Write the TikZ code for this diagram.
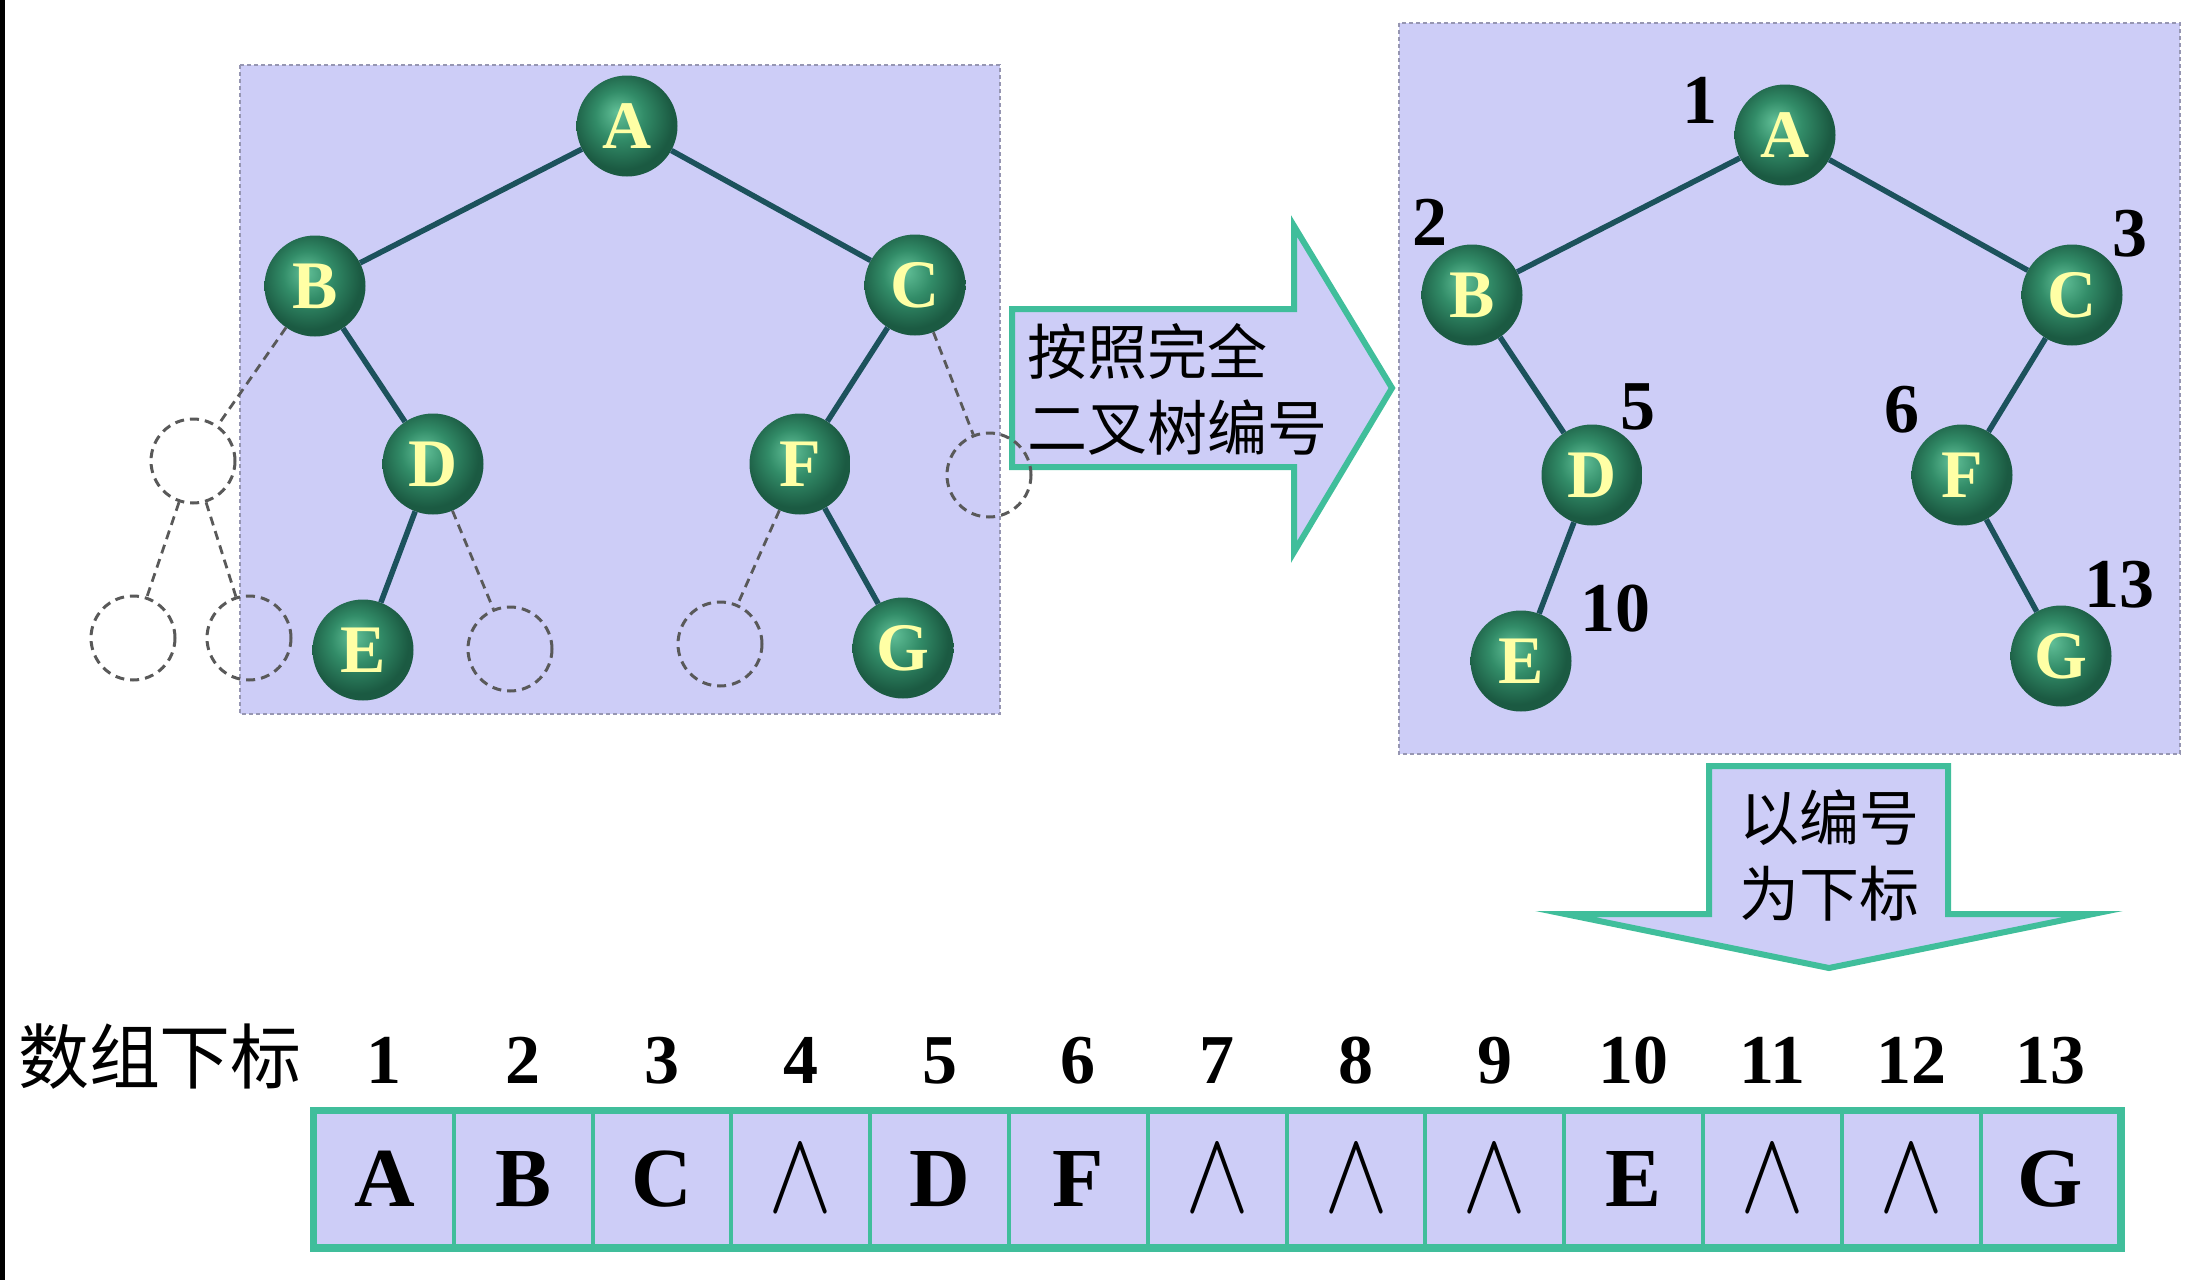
\RequirePackage{fix-cm}
\documentclass[tikz,border=0pt]{standalone}
\usepackage{fontspec}
\setmainfont{Liberation Serif}
\newfontfamily\cjk{Noto Sans CJK SC}
\usetikzlibrary{positioning}

\definecolor{boxfill}{RGB}{205,205,247}
\definecolor{boxedge}{RGB}{150,150,178}
\definecolor{arrowteal}{RGB}{64,190,155}
\definecolor{linecol}{RGB}{28,82,92}
\definecolor{ballhi}{RGB}{98,192,152}
\definecolor{ballmid}{RGB}{50,140,104}
\definecolor{balldk}{RGB}{27,90,66}
\definecolor{lettercol}{RGB}{255,255,165}

\pgfdeclareradialshading{greenball}{\pgfpoint{-5bp}{7bp}}{color(0bp)=(ballhi); color(12bp)=(ballmid); color(25bp)=(balldk); color(50bp)=(balldk)}

\newcommand{\nul}{\scalebox{1}[1.22]{\fontsize{96}{96}\selectfont$\wedge$}}

\tikzset{
  ball/.style={circle, minimum size=101pt, inner sep=0pt, shade, shading=greenball,
    text=lettercol, font=\fontsize{68}{68}\selectfont\bfseries},
  hole/.style={circle, minimum size=84pt, inner sep=0pt, draw=black!65,
    line width=3pt, dash pattern=on 9pt off 6pt},
  treeline/.style={draw=linecol, line width=5.5pt},
  ghostline/.style={draw=black!65, line width=2.8pt, dash pattern=on 9pt off 6pt},
  panel/.style={fill=boxfill, draw=boxedge, line width=2pt, dash pattern=on 4pt off 3pt},
  bigarrow/.style={fill=boxfill, draw=arrowteal, line width=6pt},
  num/.style={font=\fontsize{70}{70}\selectfont\bfseries, inner sep=0pt},
  cjktext/.style={font=\cjk\fontsize{60}{76}\selectfont, inner sep=0pt},
  cell/.style={draw=arrowteal, line width=4pt, fill=boxfill, minimum width=138.8pt,
    minimum height=134pt, inner sep=0pt, font=\fontsize{84}{84}\selectfont\bfseries}
}

\begin{document}
\begin{tikzpicture}[x=1pt,y=-1pt]
\useasboundingbox (0,0) rectangle (2193,1280);
\fill[black] (0,0) rectangle (5,1280);

\draw[panel] (240,65) rectangle (1000,714);
\draw[panel] (1399,23) rectangle (2180,754);

% arrows
\draw[bigarrow] (1012,309) -- (1294,309) -- (1294,226) -- (1392,388) -- (1294,552) -- (1294,467) -- (1012,467) -- cycle;
\draw[bigarrow] (1709,766) -- (1948,766) -- (1948,914) -- (2093,914) -- (1829,968) -- (1565,914) -- (1709,914) -- cycle;
\node[cjktext, align=left, anchor=west] (step1) at (1027,389) {按照完全\\二叉树编号};
\node[cjktext, align=center] (step2) at (1829,855) {以编号\\为下标};

% left tree
\node[ball] (A) at (627,126) {A};
\node[ball] (B) at (315,286) {B};
\node[ball] (C) at (915,285) {C};
\node[ball] (D) at (433,464) {D};
\node[ball] (F) at (800,464) {F};
\node[ball] (E) at (363,650) {E};
\node[ball] (G) at (903,648) {G};
\node[hole] (h1) at (193,461) {};
\node[hole] (h2) at (133,638) {};
\node[hole] (h3) at (249,638) {};
\node[hole] (h4) at (510,649) {};
\node[hole] (h5) at (720,644) {};
\node[hole] (h6) at (989,475) {};
\foreach \p/\q in {A/B, A/C, B/D, D/E, C/F, F/G}
  \draw[treeline] (\p) -- (\q);
\foreach \p/\q in {B/h1, h1/h2, h1/h3, D/h4, F/h5, C/h6}
  \draw[ghostline] (\p) -- (\q);

% right tree, numbered
\node[ball] (rA) at (1785,135) {A};
\node[ball] (rB) at (1472,295) {B};
\node[ball] (rC) at (2072,295) {C};
\node[ball] (rD) at (1592,475) {D};
\node[ball] (rF) at (1962,475) {F};
\node[ball] (rE) at (1521,661) {E};
\node[ball] (rG) at (2061,656) {G};
\foreach \p/\q in {rA/rB, rA/rC, rB/rD, rD/rE, rC/rF, rF/rG}
  \draw[treeline] (\p) -- (\q);
\foreach \n/\x/\y in {1/1700/100, 2/1430/222, 3/2130/234, 5/1638/407, 6/1902/410, 10/1615/609, 13/2119/585}
  \node[num] (k\n) at (\x,\y) {\n};

% array
\node[cjktext, font=\cjk\fontsize{71}{71}\selectfont] (arrname) at (160,1057) {数组下标};
\foreach \i/\t in {1/A, 2/B, 3/C, 4/\nul, 5/D, 6/F, 7/\nul, 8/\nul, 9/\nul, 10/E, 11/\nul, 12/\nul, 13/G}{
  \node[cell] (c\i) at ({315+(\i-0.5)*138.8},1179) {\t};
  \node[num, above=26pt of c\i] (n\i) {\i};
}
\draw[arrowteal, line width=7pt] (c1.north west) rectangle (c13.south east);
\end{tikzpicture}
\end{document}
